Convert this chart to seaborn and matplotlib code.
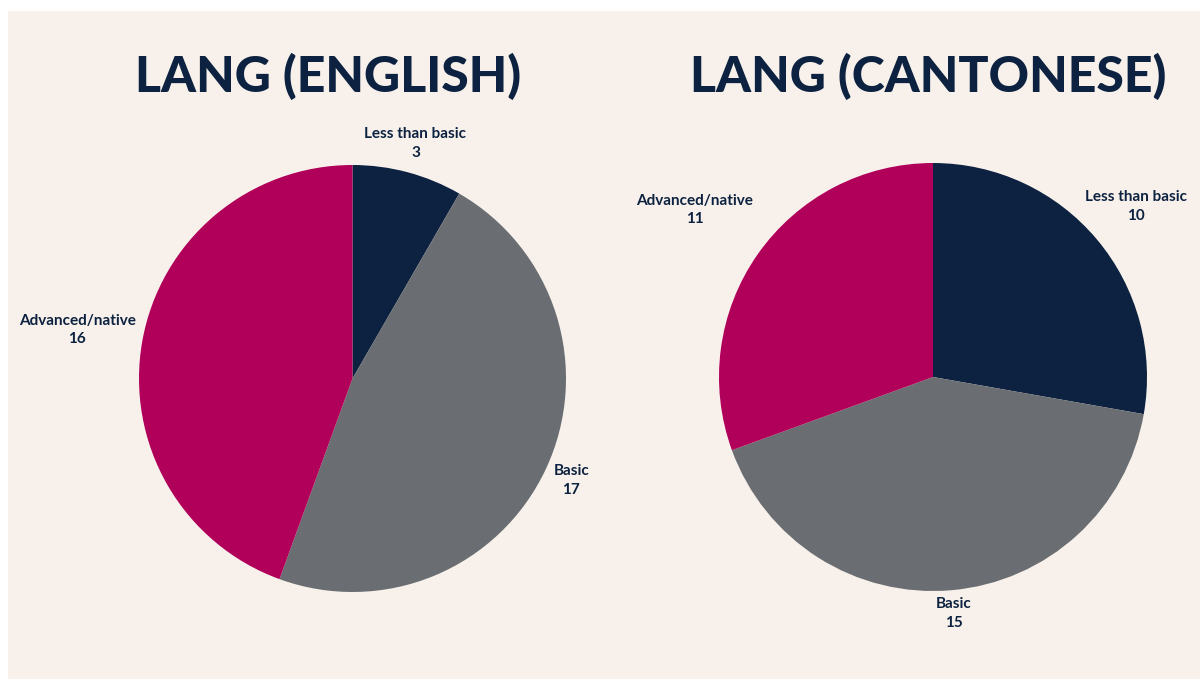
import numpy as np
import matplotlib
matplotlib.use("Agg")
import matplotlib.pyplot as plt
import seaborn as sns
from matplotlib.patches import Rectangle

sns.set_theme(style="white")
plt.rcParams['font.family'] = ['Lato', 'DejaVu Sans']

# data
categories = ['Less than basic', 'Basic', 'Advanced/native']
english_counts = [3, 17, 16]
cantonese_counts = [10, 15, 11]
titles = ['LANG (ENGLISH)', 'LANG (CANTONESE)']

colors = ['#0c2240', '#6a6e72', '#b0005a']
bg = '#f8f1eb'
navy = '#0c2240'

W, H = 1200, 679
fig = plt.figure(figsize=(W / 100, H / 100), dpi=100)
fig.patch.set_facecolor('white')
fig.patches.append(Rectangle((8 / W, -0.01), 1, 1.01 - 11 / H, transform=fig.transFigure,
                             facecolor=bg, edgecolor='none', zorder=-1))


def pie_axes(cx, cy, r):
    # cx, cy, r in pixels, cy from the top
    ax = fig.add_axes([(cx - r) / W, (H - cy - r) / H, 2 * r / W, 2 * r / H])
    ax.set_facecolor('none')
    return ax


def draw_pie(ax, counts, label_dist):
    wedges, _ = ax.pie(counts, colors=colors, startangle=90, counterclock=False,
                       wedgeprops=dict(linewidth=0))
    ax.set_xlim(-1, 1)
    ax.set_ylim(-1, 1)
    for w, cat, n, d in zip(wedges, categories, counts, label_dist):
        mid = np.deg2rad((w.theta1 + w.theta2) / 2)
        ax.text(d * np.cos(mid), d * np.sin(mid), f'{cat}\n{n}', ha='center', va='center',
                multialignment='center', fontsize=11, fontweight='bold', color=navy,
                linespacing=1.4, clip_on=False)


ax1 = pie_axes(352.5, 378.5, 213.5)
draw_pie(ax1, english_counts, [1.14, 1.13, 1.31])
ax2 = pie_axes(933, 377, 214)
draw_pie(ax2, cantonese_counts, [1.24, 1.11, 1.36])

fig.text(328 / W, 1 - 76 / H, titles[0], ha='center', va='center', fontsize=36,
         fontweight='black', color=navy)
fig.text(928 / W, 1 - 76 / H, titles[1], ha='center', va='center', fontsize=36,
         fontweight='black', color=navy)

fig.savefig('out.png', dpi=100, facecolor=fig.get_facecolor())
